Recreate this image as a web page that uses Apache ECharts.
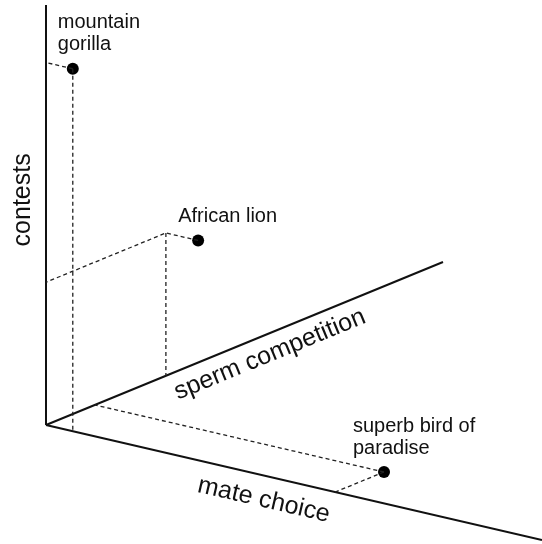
<!DOCTYPE html>
<html>
<head>
<meta charset="utf-8">
<script src="https://cdn.jsdelivr.net/npm/echarts@6/dist/echarts.min.js"></script>
<style>
  html, body { margin: 0; padding: 0; background: #fff; }
  #main { width: 542px; height: 544px; }
</style>
</head>
<body>
<div id="main"></div>
<script>
// data (arbitrary 0-10 units on each of the three axes)
const species = ['mountain gorilla', 'African lion', 'superb bird of paradise'];
const speciesLabels = ['mountain\ngorilla', 'African lion', 'superb bird of\nparadise'];
const mateChoice = [0.54, 0.65, 5.83];
const spermCompetition = [0, 3.02, 1.23];
const contests = [8.63, 3.4, 0];
const axisNames = ['mate choice', 'sperm competition', 'contests'];
const axisMax = [10, 10, 10];
// which components each dashed guide keeps (m = mate, s = sperm, c = contests)
const guides = [
  [['msc', 'c'], ['msc', 'm']],
  [['msc', 'sc', 'c'], ['sc', 's']],
  [['msc', 's'], ['msc', 'm']]
];

// oblique projection of the three axes onto the page
const origin = [46, 425];
const dirMate = [49.6, 11.5];
const dirSperm = [39.7, -16.3];
const dirContest = [0, -42];

function project(m, s, c) {
  return [
    origin[0] + m * dirMate[0] + s * dirSperm[0] + c * dirContest[0],
    origin[1] + m * dirMate[1] + s * dirSperm[1] + c * dirContest[1]
  ];
}

function corner(i, keep) {
  return project(
    keep.indexOf('m') >= 0 ? mateChoice[i] : 0,
    keep.indexOf('s') >= 0 ? spermCompetition[i] : 0,
    keep.indexOf('c') >= 0 ? contests[i] : 0
  );
}

const font = 'Liberation Sans, Arial, sans-serif';
const textColor = '#111';
const series = [];

// the three solid axes
[[axisMax[0], 0, 0], [0, axisMax[1], 0], [0, 0, axisMax[2]]].forEach(function (end) {
  series.push({
    type: 'line',
    data: [project(0, 0, 0), project(end[0], end[1], end[2])],
    symbol: 'none',
    silent: true,
    clip: false,
    lineStyle: { color: '#111', width: 2 }
  });
});

// dashed guide lines back to the axes
guides.forEach(function (paths, i) {
  paths.forEach(function (path) {
    series.push({
      type: 'line',
      data: path.map(function (k) { return corner(i, k); }),
      symbol: 'none',
      silent: true,
      lineStyle: { color: '#222', width: 1.3, type: [4, 3] }
    });
  });
});

// species points
const labelOffsets = [[-15, -13], [-20, -13], [-31, -13]];
series.push({
  type: 'scatter',
  symbolSize: 12,
  itemStyle: { color: '#000', opacity: 1 },
  data: species.map(function (name, i) {
    return {
      name: name,
      value: corner(i, 'msc'),
      label: {
        show: true,
        position: 'inside',
        align: 'left',
        verticalAlign: 'bottom',
        offset: labelOffsets[i],
        formatter: speciesLabels[i],
        fontFamily: font,
        fontSize: 20,
        lineHeight: 22,
        color: textColor
      }
    };
  })
});

// axis names
const nameAt = [[4.5, 0, 0], [0, 5.45, 0], [0, 0, 5.36]];
const nameRotate = [-13, 22.3, 90];
const nameOffset = [[0, 24], [0, 20], [0, -23]];
series.push({
  type: 'scatter',
  symbolSize: 0,
  silent: true,
  itemStyle: { opacity: 1 },
  data: axisNames.map(function (name, i) {
    return {
      name: name,
      value: project(nameAt[i][0], nameAt[i][1], nameAt[i][2]),
      label: {
        show: true,
        position: 'inside',
        align: 'center',
        verticalAlign: 'middle',
        rotate: nameRotate[i],
        offset: nameOffset[i],
        formatter: name,
        fontFamily: font,
        fontSize: 25,
        color: textColor
      }
    };
  })
});

var chartDom = document.getElementById('main');
var myChart = echarts.init(chartDom);
var option = {
  animation: false,
  backgroundColor: '#fff',
  grid: { left: 0, right: 0, top: 0, bottom: 0 },
  xAxis: { type: 'value', min: 0, max: 542, show: false },
  yAxis: { type: 'value', min: 0, max: 544, inverse: true, show: false },
  series: series
};
option && myChart.setOption(option);
</script>
</body>
</html>
